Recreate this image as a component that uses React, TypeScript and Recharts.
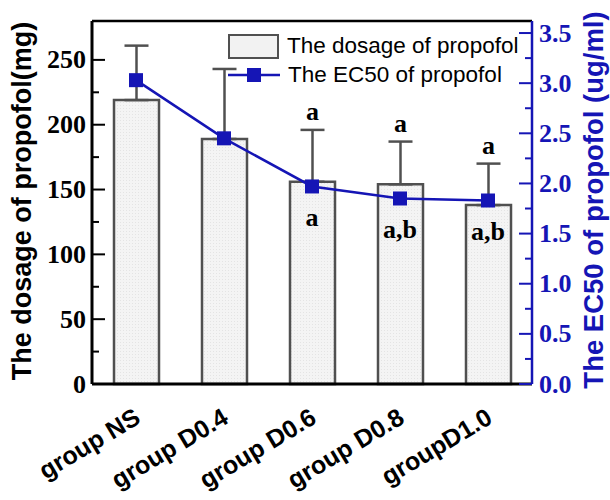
import React from "react";
import {
  ComposedChart,
  Bar,
  Line,
  XAxis,
  YAxis,
  ErrorBar,
  LabelList,
  Legend,
  ReferenceLine,
} from "recharts";

const groups = ["group NS", "group D0.4", "group D0.6", "group D0.8", "groupD1.0"];
const dosage = [219, 189, 156, 154, 138];
const dosageSD = [42, 54, 40, 33, 32];
const ec50 = [3.03, 2.45, 1.97, 1.85, 1.83];
const marksAbove = ["", "", "a", "a", "a"];
const marksBelow = ["", "", "a", "a,b", "a,b"];
const leftTicks = [0, 25, 50, 75, 100, 125, 150, 175, 200, 225, 250];
const rightTicks = [0, 0.25, 0.5, 0.75, 1, 1.25, 1.5, 1.75, 2, 2.25, 2.5, 2.75, 3, 3.25, 3.5];

const data = groups.map((g, i) => ({
  group: g,
  dosage: dosage[i],
  err: [0, dosageSD[i]],
  ec50: ec50[i],
}));

const BLUE = "#1515b5";
const GRAY = "#505050";
const SERIF = "'Liberation Serif', 'Times New Roman', serif";
const SANS = "'Liberation Sans', Arial, sans-serif";

const LeftTick = ({ x, y, payload }: any) => {
  const major = payload.value % 50 === 0;
  return (
    <g>
      <line x1={x} x2={x + (major ? 13 : 7)} y1={y} y2={y} stroke="#000" strokeWidth={2} />
      {major && (
        <text x={x - 6} y={y} dy="0.33em" textAnchor="end" fontFamily={SERIF} fontWeight="bold" fontSize={26} fill="#000">
          {payload.value}
        </text>
      )}
    </g>
  );
};

const RightTick = ({ x, y, payload }: any) => {
  const v = payload.value;
  const major = Math.abs(v * 2 - Math.round(v * 2)) < 1e-6;
  return (
    <g>
      <line x1={x} x2={x - (major ? 13 : 7)} y1={y} y2={y} stroke={BLUE} strokeWidth={2} />
      {major && (
        <text x={x + 7} y={y} dy="0.33em" textAnchor="start" fontFamily={SERIF} fontWeight="bold" fontSize={26} fill={BLUE}>
          {v.toFixed(1)}
        </text>
      )}
    </g>
  );
};

const XTick = ({ x, y, payload }: any) => {
  const tx = x + 6;
  const ty = y + 38;
  return (
    <text x={tx} y={ty} textAnchor="end" transform={`rotate(-31, ${tx}, ${ty})`} fontFamily={SANS} fontWeight="bold" fontSize={25} fill="#000">
      {payload.value}
    </text>
  );
};

const Square = ({ cx, cy }: any) => (
  <rect x={cx - 7} y={cy - 7} width={14} height={14} fill={BLUE} />
);

const LegendBox = () => (
  <div style={{ fontFamily: SANS, fontSize: 22.5, color: "#000" }}>
    <div style={{ display: "flex", alignItems: "center", height: 28 }}>
      <div style={{ width: 47, height: 21, border: `2.5px solid ${GRAY}`, background: "#f2f2f2", marginRight: 8 }} />
      <span>The dosage of propofol</span>
    </div>
    <div style={{ display: "flex", alignItems: "center", height: 29 }}>
      <svg width={52} height={16} style={{ marginRight: 8 }}>
        <line x1={0} x2={52} y1={8} y2={8} stroke={BLUE} strokeWidth={2.5} />
        <rect x={19} y={1} width={14} height={14} fill={BLUE} />
      </svg>
      <span>The EC50 of propofol</span>
    </div>
  </div>
);

export default function App() {
  return (
    <div style={{ position: "absolute", left: 0, top: 0 }}>
      <ComposedChart width={610} height={500} data={data} margin={{ top: 21, right: 0, bottom: 0, left: 0 }}>
        <defs>
          <pattern id="dots" width={3} height={3} patternUnits="userSpaceOnUse">
            <rect width={3} height={3} fill="#f4f4f4" />
            <rect width={1} height={1} fill="#e4e4e4" />
          </pattern>
        </defs>
        <XAxis
          dataKey="group"
          height={116}
          tickSize={0}
          tickMargin={0}
          interval={0}
          tick={<XTick />}
          axisLine={{ stroke: "#000", strokeWidth: 3 }}
          tickLine={false}
        />
        <YAxis
          yAxisId="left"
          width={92}
          domain={[0, 280]}
          ticks={leftTicks}
          interval={0}
          tickSize={0}
          tickMargin={0}
          tick={<LeftTick />}
          tickLine={false}
          axisLine={{ stroke: "#000", strokeWidth: 3 }}
          label={{
            content: () => (
              <text x={31} y={201} transform="rotate(-90, 31, 201)" textAnchor="middle" fontFamily={SANS} fontWeight="bold" fontSize={27} fill="#000">
                The dosage of propofol(mg)
              </text>
            ),
          }}
        />
        <YAxis
          yAxisId="right"
          orientation="right"
          width={78}
          domain={[0, 3.62]}
          ticks={rightTicks}
          interval={0}
          tickSize={0}
          tickMargin={0}
          tick={<RightTick />}
          tickLine={false}
          axisLine={{ stroke: BLUE, strokeWidth: 2.5 }}
          label={{
            content: () => (
              <text x={603} y={200} transform="rotate(-90, 603, 200)" textAnchor="middle" fontFamily={SANS} fontWeight="bold" fontSize={27.5} fill={BLUE}>
                The EC50 of propofol (ug/ml)
              </text>
            ),
          }}
        />
        <ReferenceLine yAxisId="left" y={280} stroke="#000" strokeWidth={2.5} ifOverflow="visible" />
        <Legend
          verticalAlign="middle"
          layout="horizontal"
          align="center"
          content={<LegendBox />}
          wrapperStyle={{ top: 32, left: 228, width: "auto" }}
        />
        <Bar
          yAxisId="left"
          dataKey="dosage"
          barSize={45}
          fill="url(#dots)"
          stroke={GRAY}
          strokeWidth={2.5}
          isAnimationActive={false}
        >
          <ErrorBar dataKey="err" width={12} stroke={GRAY} strokeWidth={2.5} direction="y" />
          <LabelList
            dataKey="dosage"
            content={(p: any) => {
              const i = p.index;
              const t = marksAbove[i];
              if (!t) return null;
              const top = p.y - (dosageSD[i] * p.height) / p.value;
              return (
                <text x={p.x + p.width / 2} y={top - 10} textAnchor="middle" fontFamily={SERIF} fontWeight="bold" fontSize={26} fill="#000">
                  {t}
                </text>
              );
            }}
          />
        </Bar>
        <Line
          yAxisId="right"
          type="linear"
          dataKey="ec50"
          stroke={BLUE}
          strokeWidth={2.5}
          dot={<Square />}
          activeDot={false}
          isAnimationActive={false}
        >
          <LabelList
            dataKey="ec50"
            content={(p: any) => {
              const t = marksBelow[p.index];
              if (!t) return null;
              return (
                <text x={p.x} y={p.y + 40} textAnchor="middle" fontFamily={SERIF} fontWeight="bold" fontSize={26} fill="#000">
                  {t}
                </text>
              );
            }}
          />
        </Line>
      </ComposedChart>
    </div>
  );
}
